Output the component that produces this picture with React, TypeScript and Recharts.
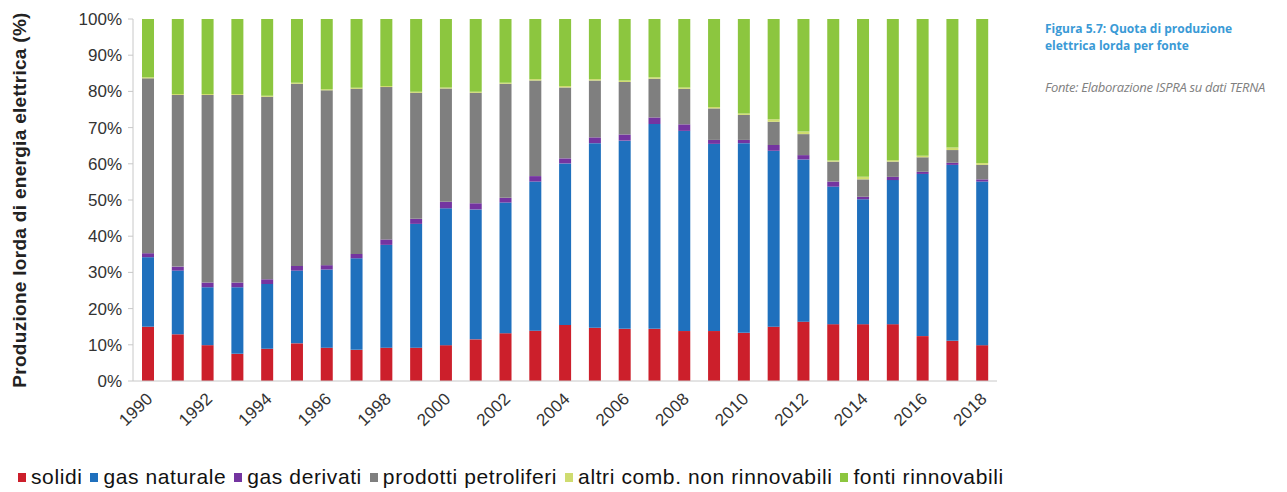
import React from 'react';
import { BarChart, Bar, XAxis, YAxis } from 'recharts';

const years = [1990,1991,1992,1993,1994,1995,1996,1997,1998,1999,2000,2001,2002,2003,2004,2005,2006,2007,2008,2009,2010,2011,2012,2013,2014,2015,2016,2017,2018];
const solidi = [15.0,12.9,9.9,7.5,8.9,10.4,9.2,8.6,9.2,9.2,9.9,11.5,13.2,13.9,15.5,14.7,14.4,14.4,13.8,13.8,13.3,15.0,16.4,15.7,15.7,15.7,12.4,11.1,9.9];
const gasNaturale = [19.2,17.6,16.0,18.4,17.9,20.1,21.6,25.3,28.4,34.2,37.8,35.9,36.1,41.2,44.6,51.0,52.0,56.6,55.3,51.7,52.4,48.6,44.8,38.0,34.5,39.8,44.8,48.6,45.2];
const gasDerivati = [1.1,1.1,1.3,1.3,1.3,1.3,1.2,1.2,1.5,1.4,1.8,1.7,1.3,1.5,1.4,1.6,1.7,1.8,1.8,1.1,0.9,1.6,1.2,1.4,0.7,0.9,0.6,0.6,0.6];
const prodottiPetroliferi = [48.3,47.4,51.8,51.8,50.4,50.3,48.3,45.6,42.1,34.8,31.3,30.5,31.5,26.4,19.6,15.7,14.5,10.7,9.8,8.7,6.9,6.4,5.8,5.5,4.8,4.2,4.0,3.5,4.0];
const altriComb = [0.3,0.3,0.3,0.3,0.3,0.3,0.3,0.3,0.3,0.3,0.3,0.3,0.3,0.4,0.4,0.4,0.4,0.4,0.4,0.4,0.4,0.7,0.7,0.3,0.7,0.4,0.4,0.7,0.5];
const fontiRinnovabili = [16.1,20.7,20.7,20.7,21.2,17.6,19.4,19.0,18.5,20.1,18.9,20.1,17.6,16.6,18.5,16.6,17.0,16.1,18.9,24.3,26.1,27.7,31.1,39.1,43.6,39.0,37.8,35.5,39.8];

const yTicks = [0,10,20,30,40,50,60,70,80,90,100];

const seriesNames = ['solidi','gas naturale','gas derivati','prodotti petroliferi','altri comb. non rinnovabili','fonti rinnovabili'];
const seriesKeys = ['solidi','gasNaturale','gasDerivati','prodottiPetroliferi','altriComb','fontiRinnovabili'];
const seriesColors = ['#cc1f2b','#1f70bd','#7434a0','#7f7f7f','#cfdc70','#8cc63f'];
const seriesValues = [solidi, gasNaturale, gasDerivati, prodottiPetroliferi, altriComb, fontiRinnovabili];

const yLabel = 'Produzione  lorda di energia elettrica (%)';
const titleLines = ['Figura 5.7: Quota di produzione', 'elettrica lorda per fonte'];
const sourceText = 'Fonte: Elaborazione ISPRA su dati TERNA';

const data = years.map((y, i) => {
  const row: any = { year: String(y) };
  seriesKeys.forEach((k, j) => { row[k] = seriesValues[j][i]; });
  return row;
});

const FONT = '"Liberation Sans", Arial, sans-serif';

const XTick = (props: any) => {
  const { x, y, payload } = props;
  const tx = x + 6;
  const ty = y + 11;
  return (
    <text x={tx} y={ty} transform={`rotate(-44, ${tx}, ${ty})`} textAnchor="end" fontSize={17} fill="#333" fontFamily={FONT} letterSpacing={0.3}>
      {payload.value}
    </text>
  );
};

const YLabel = (props: any) => {
  const vb = props.viewBox || {};
  const cx = (vb.x || 0) + 26;
  const cy = (vb.y || 0) + (vb.height || 0) / 2;
  return (
    <text x={cx} y={cy} transform={`rotate(-90, ${cx}, ${cy})`} textAnchor="middle" fontSize={19} fontWeight="bold" fill="#222" fontFamily={FONT} letterSpacing={0.3}>
      {yLabel}
    </text>
  );
};

export default function App() {
  return (
    <div style={{ position: 'absolute', left: 0, top: 0, width: 1287, height: 492, background: '#fff', fontFamily: FONT }}>
      <BarChart width={1287} height={492} data={data} margin={{ top: 19, right: 290, bottom: 71, left: 0 }} barSize={12}>
        <YAxis
          width={133}
          domain={[0, 100]}
          ticks={yTicks}
          interval={0}
          tickFormatter={(v: number) => `${v}%`}
          tick={{ fontSize: 17, fill: '#333', fontFamily: FONT }}
          axisLine={{ stroke: '#c8c8c8' }}
          tickLine={{ stroke: '#c8c8c8' }}
          tickSize={5}
          tickMargin={6}
          label={<YLabel />}
        />
        <XAxis
          dataKey="year"
          height={40}
          interval={1}
          tick={<XTick />}
          tickLine={false}
          axisLine={{ stroke: '#c8c8c8' }}
        />
        {seriesKeys.map((k, j) => (
          <Bar key={k} dataKey={k} name={seriesNames[j]} stackId="a" fill={seriesColors[j]} isAnimationActive={false} />
        ))}
      </BarChart>
      <div style={{ position: 'absolute', left: 1045, top: 20, fontFamily: '"Open Sans", sans-serif', fontWeight: 700, fontSize: 12, lineHeight: '17px', color: '#3a9ad6', whiteSpace: 'nowrap' }}>
        {titleLines.map((t) => <div key={t}>{t}</div>)}
      </div>
      <div style={{ position: 'absolute', left: 1045, top: 78, fontFamily: '"Open Sans", sans-serif', fontStyle: 'italic', fontSize: 13, color: '#808080', whiteSpace: 'nowrap', letterSpacing: -0.3 }}>
        {sourceText}
      </div>
      <div style={{ position: 'absolute', left: 18, top: 465, display: 'flex', alignItems: 'center', fontSize: 21, lineHeight: '24px', color: '#111', whiteSpace: 'nowrap', fontFamily: FONT, letterSpacing: 0.6 }}>
        {seriesNames.map((n, j) => (
          <div key={n} style={{ display: 'flex', alignItems: 'center', marginRight: 8 }}>
            <span style={{ display: 'inline-block', width: 8, height: 9, background: seriesColors[j], marginRight: 5 }} />
            <span>{n}</span>
          </div>
        ))}
      </div>
    </div>
  );
}
